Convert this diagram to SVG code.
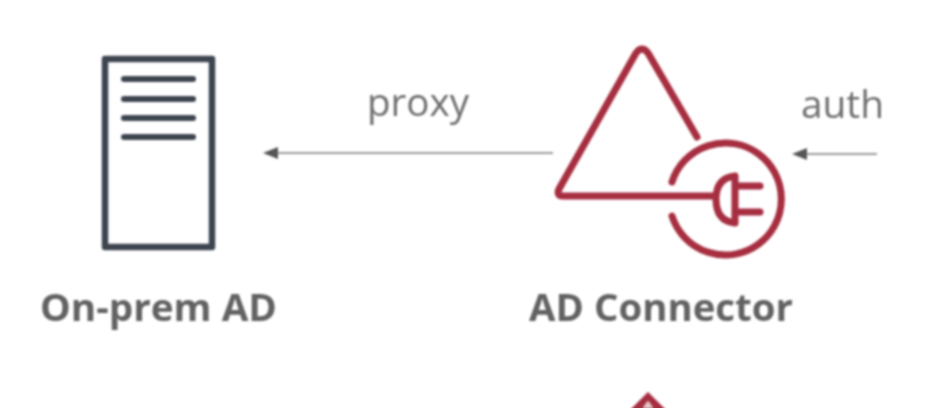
<svg xmlns="http://www.w3.org/2000/svg" width="950" height="408" viewBox="0 0 950 408">
<style>
.red{fill:none;stroke:#a62f40;stroke-width:7;stroke-linecap:round;stroke-linejoin:round}
.dark{fill:none;stroke:#3c4450;stroke-width:6.5;stroke-linejoin:round}
.bar{stroke:#3c4450;stroke-width:6;stroke-linecap:round}
.wire{stroke:#9a9a9a;stroke-width:1.8;fill:none}
.head{fill:#555}
.t{font-family:"Open Sans","Liberation Sans",sans-serif;fill:#6e6e6e}
.b{font-weight:700;fill:#626262;font-size:37px}
</style>
<defs>
<filter id="soft" x="-10%" y="-10%" width="120%" height="120%"><feGaussianBlur stdDeviation="1.3"/></filter>
</defs>
<rect width="950" height="408" fill="#fff"/>
<g filter="url(#soft)">
<g id="connectors">
<path class="wire" d="M553 153H272"/>
<path class="head" d="M263 153L278 147V159Z"/>
<path class="wire" d="M877 154H800"/>
<path class="head" d="M792 154L807 148V160Z"/>
</g>
<g id="on-prem-ad">
<rect class="dark" x="105" y="59" width="107" height="188"/>
<path class="bar" d="M124 79H193M124 99H193M124 118H193M124 137H193"/>
<text class="t b" x="40" y="321" textLength="237" lengthAdjust="spacingAndGlyphs">On-prem AD</text>
</g>
<g id="ad-connector">
<path class="red" d="M697 137L648 53Q642 45 636 53L559 189Q556 196 563 196H712"/>
<path class="red" d="M672 182A56 56 0 1 1 672 216"/>
<path class="red" d="M735 176V223Q716 221 716 199Q716 178 735 176ZM735 186H760M735 212H760"/>
<text class="t b" x="529" y="321" textLength="264" lengthAdjust="spacingAndGlyphs">AD Connector</text>
</g>
<g id="proxy-label"><text class="t" x="367" y="116" font-size="38" textLength="102" lengthAdjust="spacingAndGlyphs">proxy</text></g>
<g id="auth-label"><text class="t" x="801" y="118" font-size="38" textLength="83" lengthAdjust="spacingAndGlyphs">auth</text></g>
<g id="lower-node"><path d="M648 392L628 412H668Z" fill="#a62f40"/><path d="M643 408L648 401L653 408Z" fill="#e8c9ce"/></g>
</g>
</svg>
